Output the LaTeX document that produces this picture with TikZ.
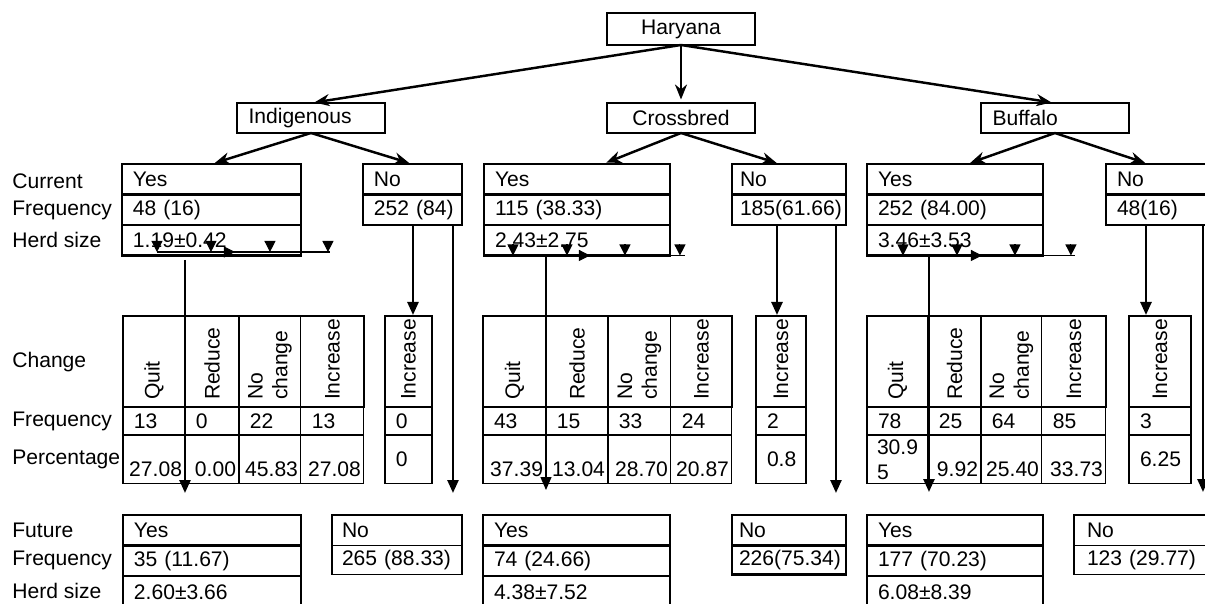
\documentclass[tikz,border=0pt]{standalone}
\usepackage{fontspec}
\setmainfont{Liberation Sans}
\usetikzlibrary{arrows.meta}
\begin{document}
\begin{tikzpicture}[x=0.02cm, y=-0.02cm, font=\fontsize{12}{14}\selectfont,
  main node/.style={draw, line width=1.35pt, minimum width=2.96cm, minimum height=0.6cm, inner sep=0pt, outer sep=0pt},
  cell box/.style={draw, line width=1.35pt, anchor=north west, inner xsep=0.22cm, inner ysep=0pt, outer sep=0pt, align=left, minimum height=0.61cm},
  thin box/.style={cell box, line width=0.6pt},
  freq box/.style={thin box, minimum height=0.56cm},
  pct box/.style={thin box, align=right, inner xsep=0.06cm, minimum height=0.98cm, text height=19pt, text depth=0pt},
  inc box/.style={thin box, minimum height=0.98cm},
  head box/.style={thin box, rotate=90, anchor=north east, inner xsep=0.14cm, text width=1.54cm},
  label node/.style={anchor=west, inner sep=0pt},
  main arrow/.style={line width=1.4pt, -{Stealth[length=0.3cm, width=0.24cm]}, shorten >=0.07cm},
  down arrow/.style={line width=1.4pt, -{Triangle[length=0.26cm, width=0.22cm]}},
  tip arrow/.style={line width=0.6pt, -{Triangle[length=0.22cm, width=0.22cm]}}]
\useasboundingbox (0,0) rectangle (1205,604);
\begin{scope}
\node[label node] (lcur) at (12,181) {Current};
\node[label node] (lfreqa) at (12,210) {Frequency};
\node[label node] (lherda) at (12,240) {Herd size};
\node[label node] (lchange) at (12,362) {Change};
\node[label node] (lfreqb) at (12,421) {Frequency};
\node[label node] (lpct) at (12,459) {Percentage};
\node[label node] (lfut) at (12,530) {Future};
\node[label node] (lfreqc) at (12,560) {Frequency};
\node[label node] (lherdc) at (12,591) {Herd size};
\end{scope}
\begin{scope}
\node[main node, minimum height=0.64cm] (har) at (681,29) {Haryana};
\node[main node, text width=2.5cm, inner xsep=0.23cm, align=left] (ind) at (311,118) {Indigenous};
\node[main node] (crb) at (681,118) {Crossbred};
\node[main node, text width=2.5cm, inner xsep=0.23cm, align=left] (buf) at (1055,118) {Buffalo};
\end{scope}
% current
\begin{scope}
\node[cell box, text width=3.14cm] (iya) at (122,164) {Yes};
\node[cell box, text width=3.14cm] (iyb) at (iya.south west) {48~(16)};
\node[cell box, text width=3.14cm] (iyc) at (iyb.south west) {1.19±0.42};
\node[cell box, text width=1.54cm] (ina) at (363,164) {No};
\node[cell box, text width=1.54cm] (inb) at (ina.south west) {252~(84)};
\node[cell box, text width=3.28cm] (cya) at (484,164) {Yes};
\node[cell box, text width=3.28cm] (cyb) at (cya.south west) {115~(38.33)};
\node[cell box, text width=3.28cm] (cyc) at (cyb.south west) {2.43±2.75};
\node[cell box, inner xsep=0.16cm, text width=1.96cm] (cna) at (732,164) {No};
\node[cell box, inner xsep=0.16cm, text width=1.96cm] (cnb) at (cna.south west) {185(61.66)};
\node[cell box, text width=3.08cm] (bya) at (867,164) {Yes};
\node[cell box, text width=3.08cm] (byb) at (bya.south west) {252~(84.00)};
\node[cell box, text width=3.08cm] (byc) at (byb.south west) {3.46±3.53};
\node[cell box, text width=1.86cm] (bna) at (1106,164) {No};
\node[cell box, text width=1.86cm] (bnb) at (bna.south west) {48(16)};
\end{scope}
% change, indigenous
\begin{scope}
\node[head box, minimum height=1.24cm] (iha) at (123,316) {Quit};
\node[head box, minimum height=1.08cm] (ihb) at (iha.south east) {Reduce};
\node[head box, minimum height=1.24cm] (ihc) at (ihb.south east) {No\\change};
\node[head box, minimum height=1.26cm] (ihd) at (ihc.south east) {Increase};
\node[head box, minimum height=0.94cm, line width=1.35pt] (ihe) at (385,316) {Increase};
\draw[line width=1.35pt] (iha.north east) rectangle (ihd.south west);
\node[freq box, text width=0.80cm] (ifa) at (iha.north west) {13};
\node[freq box, text width=0.64cm] (ifb) at (ifa.north east) {0};
\node[freq box, text width=0.80cm] (ifc) at (ifb.north east) {22};
\node[freq box, text width=0.82cm] (ifd) at (ifc.north east) {13};
\node[freq box, text width=0.50cm] (ife) at (ihe.north west) {0};
\node[pct box, text width=1.12cm] (ipa) at (ifa.south west) {27.08};
\node[pct box, text width=0.96cm] (ipb) at (ipa.north east) {0.00};
\node[pct box, text width=1.12cm] (ipc) at (ipb.north east) {45.83};
\node[pct box, text width=1.14cm] (ipd) at (ipc.north east) {27.08};
\node[inc box, text width=0.50cm] (ipe) at (ife.south west) {0};
\end{scope}
% change, crossbred
\begin{scope}
\node[head box, minimum height=1.26cm] (cha) at (483,316) {Quit};
\node[head box, minimum height=1.24cm] (chb) at (cha.south east) {Reduce};
\node[head box, minimum height=1.26cm] (chc) at (chb.south east) {No\\change};
\node[head box, minimum height=1.22cm] (chd) at (chc.south east) {Increase};
\node[head box, minimum height=1.0cm, line width=1.35pt] (che) at (756,316) {Increase};
\draw[line width=1.35pt] (cha.north east) rectangle (chd.south west);
\node[freq box, text width=0.82cm] (cfa) at (cha.north west) {43};
\node[freq box, text width=0.80cm] (cfb) at (cfa.north east) {15};
\node[freq box, text width=0.82cm] (cfc) at (cfb.north east) {33};
\node[freq box, text width=0.78cm] (cfd) at (cfc.north east) {24};
\node[freq box, text width=0.56cm] (cfe) at (che.north west) {2};
\node[pct box, text width=1.14cm] (cpa) at (cfa.south west) {37.39};
\node[pct box, text width=1.12cm] (cpb) at (cpa.north east) {13.04};
\node[pct box, text width=1.14cm] (cpc) at (cpb.north east) {28.70};
\node[pct box, text width=1.10cm] (cpd) at (cpc.north east) {20.87};
\node[inc box, text width=0.56cm] (cpe) at (cfe.south west) {0.8};
\end{scope}
% change, buffalo
\begin{scope}
\node[head box, minimum height=1.22cm] (bha) at (867,316) {Quit};
\node[head box, minimum height=1.06cm] (bhb) at (bha.south east) {Reduce};
\node[head box, minimum height=1.22cm] (bhc) at (bhb.south east) {No\\change};
\node[head box, minimum height=1.28cm] (bhd) at (bhc.south east) {Increase};
\node[head box, minimum height=1.24cm, line width=1.35pt] (bhe) at (1129,316) {Increase};
\draw[line width=1.35pt] (bha.north east) rectangle (bhd.south west);
\node[freq box, text width=0.78cm] (bfa) at (bha.north west) {78};
\node[freq box, text width=0.62cm] (bfb) at (bfa.north east) {25};
\node[freq box, text width=0.78cm] (bfc) at (bfb.north east) {64};
\node[freq box, text width=0.84cm] (bfd) at (bfc.north east) {85};
\node[freq box, text width=0.80cm] (bfe) at (bhe.north west) {3};
\node[pct box, align=left, inner xsep=0.2cm, text width=0.82cm, text height=, text depth=] (bpa) at (bfa.south west) {30.9\\5};
\node[pct box, text width=0.94cm] (bpb) at (bpa.north east) {9.92};
\node[pct box, text width=1.10cm] (bpc) at (bpb.north east) {25.40};
\node[pct box, text width=1.16cm] (bpd) at (bpc.north east) {33.73};
\node[inc box, text width=0.80cm] (bpe) at (bfe.south west) {6.25};
\end{scope}
% future
\begin{scope}
\node[cell box, text width=3.12cm] (ifya) at (123,515) {Yes};
\node[cell box, text width=3.12cm] (ifyb) at (ifya.south west) {35~(11.67)};
\node[cell box, text width=3.12cm, minimum height=0.64cm] (ifyc) at (ifyb.south west) {2.60±3.66};
\node[thin box, inner xsep=0.2cm, text width=2.2cm] (ifna) at (332,515) {No};
\node[thin box, inner xsep=0.2cm, text width=2.2cm, minimum height=0.58cm] (ifnb) at (ifna.south west) {265~(88.33)};
\node[cell box, text width=3.30cm] (cfya) at (483,515) {Yes};
\node[cell box, text width=3.30cm] (cfyb) at (cfya.south west) {74~(24.66)};
\node[cell box, text width=3.30cm, minimum height=0.64cm] (cfyc) at (cfyb.south west) {4.38±7.52};
\node[cell box, inner xsep=0.14cm, text width=2.0cm] (cfna) at (732,515) {No};
\node[cell box, inner xsep=0.14cm, text width=2.0cm, minimum height=0.58cm] (cfnb) at (cfna.south west) {226(75.34)};
\node[cell box, text width=3.08cm] (bfya) at (867,515) {Yes};
\node[cell box, text width=3.08cm] (bfyb) at (bfya.south west) {177~(70.23)};
\node[cell box, text width=3.08cm, minimum height=0.64cm] (bfyc) at (bfyb.south west) {6.08±8.39};
\node[thin box, inner xsep=0.26cm, text width=2.3cm] (bfna) at (1074,515) {No};
\node[thin box, inner xsep=0.26cm, text width=2.3cm, minimum height=0.58cm] (bfnb) at (bfna.south west) {123~(29.77)};
\end{scope}
% arrows
\begin{scope}
\draw[main arrow] (har.south) -- (ind.north);
\draw[main arrow] (har.south) -- (crb.north);
\draw[main arrow] (har.south) -- (buf.north);
\draw[main arrow] (ind.south) -- (iya.north);
\draw[main arrow] (ind.south) -- (ina.north);
\draw[main arrow] (crb.south) -- ([xshift=0.52cm]cya.north);
\draw[main arrow] (crb.south) -- ([xshift=-0.18cm]cna.north);
\draw[main arrow] (buf.south) -- ([xshift=0.24cm]bya.north);
\draw[main arrow] (buf.south) -- ([xshift=-0.3cm]bna.north);
\end{scope}
\begin{scope}
\coordinate (iq) at ([xshift=1.26cm, yshift=-0.09cm]iyc.south west);
\coordinate (ino1) at ([xshift=1.0cm]inb.south west);
\coordinate (ino2) at ([xshift=1.8cm]inb.south west);
\draw[down arrow, shorten >=0.44cm] (iq) -- (iq |- ifya.north);
\draw[down arrow, shorten >=0.02cm] (ino1) -- (ino1 |- ihe.east);
\draw[down arrow, shorten >=0.44cm] (ino2) -- (ino2 |- ifna.north);
\coordinate (cq) at ([xshift=1.24cm]cyc.south west);
\coordinate (cno1) at ([xshift=0.9cm]cnb.south west);
\coordinate (cno2) at ([xshift=2.08cm]cnb.south west);
\draw[down arrow, line width=0.7pt, shorten >=0.5cm] (cq) -- (cq |- cfya.north);
\draw[down arrow, shorten >=0.02cm] (cno1) -- (cno1 |- che.east);
\draw[down arrow, shorten >=0.44cm] (cno2) -- (cno2 |- cfna.north);
\coordinate (bq) at ([xshift=1.24cm]byc.south west);
\coordinate (bno1) at ([xshift=0.8cm]bnb.south west);
\coordinate (bno2) at ([xshift=1.94cm]bnb.south west);
\draw[down arrow, shorten >=0.46cm] (bq) -- (bq |- bfya.north);
\draw[down arrow, shorten >=0.02cm] (bno1) -- (bno1 |- bhe.east);
\draw[down arrow, shorten >=0.46cm] (bno2) -- (bno2 |- bfna.north);
\end{scope}
% small tips under the herd size rows
\begin{scope}
\draw[line width=0.6pt] ([xshift=0.70cm, yshift=0.07cm]iyc.south west) -- ([xshift=4.16cm, yshift=0.07cm]iyc.south west);
\draw[tip arrow] ([xshift=0.70cm, yshift=0.07cm]iyc.south west) -- ([xshift=2.26cm, yshift=0.07cm]iyc.south west);
\foreach \dx in {0.70,1.78,2.96,4.12}
  \draw[tip arrow] ([xshift=\dx cm, yshift=0.29cm]iyc.south west) -- ([xshift=\dx cm, yshift=0.07cm]iyc.south west);
\draw[line width=0.8pt] ([xshift=0.58cm]cyc.south west) -- ([xshift=4.02cm]cyc.south west);
\draw[tip arrow] ([xshift=0.58cm]cyc.south west) -- ([xshift=2.12cm]cyc.south west);
\foreach \dx in {0.58,1.66,2.82,3.92}
  \draw[tip arrow] ([xshift=\dx cm, yshift=0.22cm]cyc.south west) -- ([xshift=\dx cm]cyc.south west);
\draw[line width=0.8pt] ([xshift=0.72cm]byc.south west) -- ([xshift=4.16cm]byc.south west);
\draw[tip arrow] ([xshift=0.72cm]byc.south west) -- ([xshift=2.30cm]byc.south west);
\foreach \dx in {0.72,1.80,2.96,4.08}
  \draw[tip arrow] ([xshift=\dx cm, yshift=0.22cm]byc.south west) -- ([xshift=\dx cm]byc.south west);
\end{scope}
\end{tikzpicture}
\end{document}
